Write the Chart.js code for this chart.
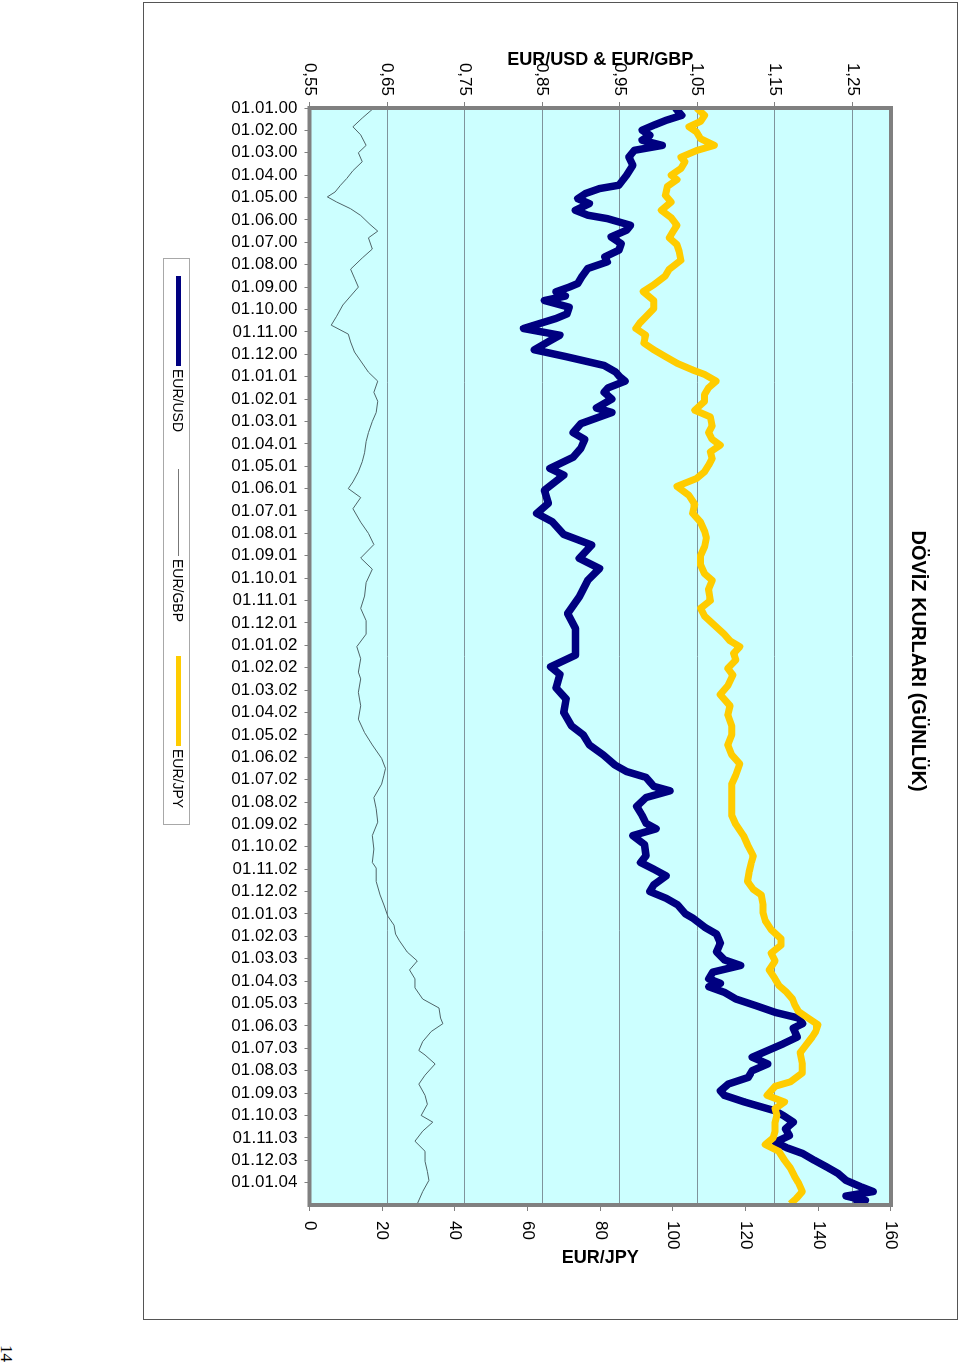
<!DOCTYPE html>
<html>
<head>
<meta charset="utf-8">
<script src="https://cdn.jsdelivr.net/npm/chart.js@4/dist/chart.umd.min.js"></script>
<style>
  body { margin: 0; background: #fff; font-family: Arial, "Liberation Sans", sans-serif; }
  #page { position: relative; width: 960px; height: 1366px; overflow: hidden; }
  #frame {
    position: absolute; left: 0; top: 0; width: 1318px; height: 815px;
    box-sizing: border-box; border: 1px solid #555; background: #fff;
    transform-origin: 0 0; transform: translate(958px, 2px) rotate(90deg);
  }
  #legend {
    position: absolute; left: 255px; top: 767px; width: 567px; height: 27px;
    box-sizing: border-box; border: 1px solid #a8a8a8; font-size: 14px;
  }
  #legend .sw { position: absolute; }
  #legend .tx { position: absolute; top: 3px; line-height: 16px; }
  #pageno {
    position: absolute; left: 0; top: 0; font: 17px "Liberation Serif", "Times New Roman", serif;
    transform-origin: 0 0; transform: translate(16px, 1345px) rotate(90deg);
  }
</style>
</head>
<body>
<div id="page">
  <div id="frame">
    <canvas id="myChart" width="1316" height="813"></canvas>
    <div id="legend">
      <div class="sw" style="left:17px; top:8px; width:90px; height:5px; background:#000080"></div>
      <div class="tx" style="left:110px">EUR/USD</div>
      <div class="sw" style="left:210px; top:10px; width:87px; height:1px; background:#777"></div>
      <div class="tx" style="left:300px">EUR/GBP</div>
      <div class="sw" style="left:397px; top:8px; width:90px; height:5px; background:#ffcc00"></div>
      <div class="tx" style="left:490px">EUR/JPY</div>
    </div>
  </div>
  <div id="pageno">14</div>
</div>
<script>
// month labels, one per month starting 01.01.00
const monthLabels = [
  "01.01.00", "01.02.00", "01.03.00", "01.04.00", "01.05.00", "01.06.00", "01.07.00", "01.08.00", "01.09.00", "01.10.00", "01.11.00", "01.12.00",
  "01.01.01", "01.02.01", "01.03.01", "01.04.01", "01.05.01", "01.06.01", "01.07.01", "01.08.01", "01.09.01", "01.10.01", "01.11.01", "01.12.01",
  "01.01.02", "01.02.02", "01.03.02", "01.04.02", "01.05.02", "01.06.02", "01.07.02", "01.08.02", "01.09.02", "01.10.02", "01.11.02", "01.12.02",
  "01.01.03", "01.02.03", "01.03.03", "01.04.03", "01.05.03", "01.06.03", "01.07.03", "01.08.03", "01.09.03", "01.10.03", "01.11.03", "01.12.03",
  "01.01.04"
];
const leftTicks = [0.55, 0.65, 0.75, 0.85, 0.95, 1.05, 1.15, 1.25];

// [months since 01.01.00, rate]
const eurUsd = [
  [0, 1.022], [0.33, 1.030], [0.55, 1.010], [0.77, 0.994], [0.99, 0.979], [1.22, 0.989], [1.44, 0.979], [1.67, 1.005],
  [1.89, 0.969], [2.19, 0.962], [2.56, 0.967], [3.0, 0.959], [3.45, 0.949], [3.6, 0.924], [3.82, 0.906], [4.05, 0.896],
  [4.27, 0.911], [4.57, 0.893], [4.79, 0.909], [4.94, 0.934], [5.24, 0.964], [5.46, 0.959], [5.76, 0.939], [6.06, 0.952],
  [6.35, 0.949], [6.65, 0.931], [6.87, 0.934], [7.17, 0.909], [7.54, 0.901], [7.84, 0.896], [8.0, 0.885], [8.21, 0.868],
  [8.4, 0.880], [8.6, 0.853], [8.9, 0.885], [9.2, 0.882], [9.4, 0.868], [9.7, 0.840], [9.85, 0.826], [10.15, 0.873],
  [10.4, 0.860], [10.8, 0.840], [11.1, 0.880], [11.5, 0.930], [11.8, 0.945], [12.0, 0.950], [12.2, 0.957], [12.5, 0.935],
  [12.7, 0.930], [13.0, 0.940], [13.4, 0.920], [13.6, 0.940], [14.1, 0.900], [14.5, 0.890], [14.8, 0.905], [15.2, 0.900],
  [15.6, 0.890], [16.1, 0.860], [16.4, 0.878], [17.07, 0.853], [17.66, 0.858], [18.11, 0.843], [18.48, 0.863], [19.05, 0.878],
  [19.52, 0.914], [20.12, 0.898], [20.57, 0.924], [21.09, 0.909], [21.83, 0.898], [22.58, 0.883], [23.24, 0.893], [23.91, 0.893],
  [24.44, 0.893], [24.96, 0.861], [25.3, 0.873], [25.9, 0.868], [26.4, 0.881], [27.0, 0.878], [27.6, 0.888], [28.0, 0.903],
  [28.45, 0.911], [28.9, 0.929], [29.35, 0.944], [29.64, 0.959], [29.9, 0.984], [30.1, 0.989], [30.3, 0.994], [30.5, 1.015],
  [30.8, 0.984], [31.2, 0.972], [31.6, 0.979], [31.95, 0.984], [32.2, 0.997], [32.5, 0.967], [32.9, 0.982], [33.4, 0.984],
  [33.7, 0.977], [34.0, 0.994], [34.3, 1.010], [34.7, 0.994], [35.0, 0.989], [35.3, 1.010], [35.6, 1.025], [36.0, 1.035],
  [36.2, 1.045], [36.6, 1.060], [36.9, 1.075], [37.3, 1.080], [37.7, 1.075], [38.05, 1.085], [38.3, 1.106], [38.6, 1.070],
  [38.9, 1.065], [39.1, 1.080], [39.25, 1.065], [39.5, 1.085], [39.8, 1.100], [40.1, 1.126], [40.4, 1.151], [40.65, 1.181],
  [40.9, 1.186], [41.1, 1.174], [41.5, 1.179], [41.8, 1.161], [42.1, 1.141], [42.4, 1.121], [42.7, 1.141], [43.0, 1.121],
  [43.3, 1.116], [43.6, 1.090], [43.9, 1.080], [44.1, 1.085], [44.4, 1.111], [44.6, 1.131], [44.8, 1.151], [45.0, 1.161],
  [45.3, 1.174], [45.6, 1.164], [45.9, 1.169], [46.2, 1.151], [46.45, 1.166], [46.7, 1.186], [47.0, 1.201], [47.3, 1.217],
  [47.6, 1.232], [47.9, 1.242], [48.2, 1.262], [48.4, 1.277], [48.6, 1.242], [48.8, 1.267], [48.95, 1.252]
];

const eurGbp = [
  [0, 0.633], [0.45, 0.618], [0.84, 0.606], [1.2, 0.616], [1.67, 0.623], [2.0, 0.613], [2.4, 0.618], [2.8, 0.606],
  [3.15, 0.598], [3.45, 0.590], [3.75, 0.583], [3.97, 0.573], [4.2, 0.585], [4.5, 0.603], [4.8, 0.616], [5.2, 0.628],
  [5.5, 0.638], [5.8, 0.626], [6.3, 0.631], [6.7, 0.618], [7.2, 0.603], [7.6, 0.608], [8.0, 0.613], [8.4, 0.603],
  [8.8, 0.593], [9.3, 0.585], [9.7, 0.578], [10.1, 0.600], [10.45, 0.603], [10.9, 0.608], [11.3, 0.616], [11.8, 0.626],
  [12.2, 0.638], [12.7, 0.633], [13.1, 0.638], [13.6, 0.636], [14.0, 0.631], [14.5, 0.626], [14.9, 0.623], [15.4, 0.621],
  [15.8, 0.618], [16.25, 0.613], [16.7, 0.606], [17.0, 0.600], [17.4, 0.616], [17.9, 0.606], [18.5, 0.616], [19.0, 0.626],
  [19.5, 0.633], [20.1, 0.616], [20.6, 0.631], [21.2, 0.623], [21.8, 0.621], [22.35, 0.616], [22.9, 0.623], [23.5, 0.623],
  [24.06, 0.611], [24.6, 0.616], [25.2, 0.613], [25.5, 0.616], [26.1, 0.613], [26.7, 0.616], [27.3, 0.613], [27.9, 0.621],
  [28.45, 0.631], [29.05, 0.643], [29.5, 0.648], [29.8, 0.646], [30.2, 0.643], [30.8, 0.633], [31.3, 0.636], [31.9, 0.638],
  [32.5, 0.631], [33.1, 0.633], [33.7, 0.631], [33.95, 0.636], [34.55, 0.636], [35.15, 0.641], [35.6, 0.646], [36.1, 0.651],
  [36.5, 0.659], [36.9, 0.661], [37.2, 0.666], [37.7, 0.676], [38.1, 0.689], [38.5, 0.679], [38.9, 0.686], [39.3, 0.686],
  [39.8, 0.696], [40.2, 0.717], [40.65, 0.719], [40.9, 0.722], [41.25, 0.707], [41.7, 0.696], [42.1, 0.691], [42.3, 0.699],
  [42.7, 0.712], [43.2, 0.699], [43.6, 0.691], [44.1, 0.699], [44.5, 0.702], [45.0, 0.694], [45.3, 0.709], [45.7, 0.696],
  [46.15, 0.686], [46.6, 0.699], [47.05, 0.699], [47.5, 0.702], [47.9, 0.704], [48.4, 0.696], [48.95, 0.689]
];

const eurJpy = [
  [0, 106.5], [0.33, 108.7], [0.6, 107.6], [0.84, 104.4], [1.07, 106.5], [1.37, 107.6], [1.67, 111.4], [1.9, 106.5],
  [2.2, 102.2], [2.4, 103.3], [2.7, 102.2], [3.0, 99.5], [3.2, 101.1], [3.5, 98.5], [3.9, 97.9], [4.2, 99.5],
  [4.57, 96.8], [4.9, 99.5], [5.24, 101.1], [5.5, 100.1], [5.8, 99.0], [6.1, 101.1], [6.4, 101.7], [6.8, 102.2],
  [7.2, 99.0], [7.5, 97.9], [7.9, 94.7], [8.2, 91.8], [8.6, 94.7], [8.96, 94.7], [9.33, 92.5], [9.6, 90.9],
  [9.85, 89.8], [10.15, 92.5], [10.5, 92.0], [10.8, 94.7], [11.1, 97.9], [11.4, 101.1], [11.7, 105.4], [11.9, 108.7],
  [12.2, 111.9], [12.5, 109.8], [12.8, 108.7], [13.1, 108.7], [13.5, 106.0], [13.8, 110.3], [14.2, 110.8], [14.5, 109.8],
  [14.8, 110.8], [15.06, 113.0], [15.36, 110.3], [15.66, 110.8], [15.96, 109.8], [16.25, 108.7], [16.55, 106.5], [16.9, 101.1],
  [17.3, 104.4], [17.7, 106.0], [18.1, 105.4], [18.5, 107.6], [18.9, 108.7], [19.2, 109.2], [19.6, 108.7], [20.0, 107.6],
  [20.4, 107.6], [20.8, 108.7], [21.1, 110.8], [21.5, 109.8], [22.0, 110.3], [22.35, 107.6], [22.7, 108.7], [23.1, 111.4],
  [23.5, 114.1], [23.8, 115.7], [24.06, 118.4], [24.36, 116.7], [24.66, 117.3], [25.03, 115.1], [25.33, 116.5], [25.8, 115.1],
  [26.2, 113.0], [26.7, 115.7], [27.1, 115.1], [27.6, 116.2], [28.0, 116.2], [28.45, 115.1], [28.9, 116.2], [29.3, 118.4],
  [29.8, 117.3], [30.2, 116.2], [30.7, 116.2], [31.1, 116.2], [31.6, 116.2], [32.0, 117.3], [32.5, 119.4], [32.9, 120.5],
  [33.4, 122.1], [33.7, 121.6], [34.1, 121.0], [34.55, 120.5], [34.9, 122.1], [35.15, 124.3], [35.6, 124.8], [35.96, 124.8],
  [36.3, 125.4], [36.7, 127.0], [37.1, 129.7], [37.4, 129.7], [37.75, 127.0], [38.1, 128.1], [38.5, 126.5], [38.9, 128.1],
  [39.2, 129.2], [39.5, 131.3], [39.8, 132.9], [40.06, 133.5], [40.35, 134.5], [40.65, 137.2], [40.95, 139.9], [41.25, 139.3],
  [41.5, 138.3], [41.9, 136.4], [42.2, 135.0], [42.7, 135.6], [43.1, 135.6], [43.5, 132.3], [43.7, 128.1], [44.1, 125.9],
  [44.4, 130.7], [44.7, 128.1], [45.0, 128.6], [45.3, 128.1], [45.7, 128.1], [46.0, 127.6], [46.3, 125.4], [46.6, 129.1],
  [47.0, 130.7], [47.35, 132.3], [47.7, 133.4], [48.0, 134.5], [48.4, 135.6], [48.7, 134.0], [48.95, 132.3]
];

const toXY = (pairs) => pairs.map(([x, y]) => ({ x, y }));
const gridColor = "#7f949c";
const axisGrey = "#808080";

Chart.defaults.font.family = 'Arial, "Liberation Sans", sans-serif';
Chart.defaults.color = "#000";

// cyan plot area + thick grey frame, like the Excel plot area
const plotFrame = {
  id: "plotFrame",
  beforeDraw(chart) {
    const { ctx, chartArea: a } = chart;
    ctx.save();
    ctx.fillStyle = "#ccffff";
    ctx.fillRect(a.left, a.top, a.right - a.left, a.bottom - a.top);
    ctx.restore();
  },
  afterDatasetsDraw(chart) {
    const { ctx, chartArea: a } = chart;
    ctx.save();
    ctx.strokeStyle = axisGrey;
    ctx.lineWidth = 4;
    ctx.strokeRect(a.left, a.top, a.right - a.left, a.bottom - a.top);
    ctx.restore();
  }
};

// right axis title reads the same way as the left one
const jpyTitle = {
  id: "jpyTitle",
  afterDraw(chart) {
    const s = chart.scales.y1;
    const ctx = chart.ctx;
    ctx.save();
    ctx.translate(s.right - 61, (s.top + s.bottom) / 2);
    ctx.rotate(-Math.PI / 2);
    ctx.font = 'bold 18px Arial, "Liberation Sans", sans-serif';
    ctx.textAlign = "center";
    ctx.textBaseline = "middle";
    ctx.fillStyle = "#000";
    ctx.fillText("EUR/JPY", 0, 0);
    ctx.restore();
  }
};

const ctx = document.getElementById("myChart").getContext("2d");
const myChart = new Chart(ctx, {
  type: "line",
  data: {
    datasets: [
      { label: "EUR/USD", data: toXY(eurUsd), yAxisID: "y", borderColor: "#000080", borderWidth: 7.5, order: 2 },
      { label: "EUR/GBP", data: toXY(eurGbp), yAxisID: "y", borderColor: "#4f6468", borderWidth: 1, order: 1 },
      { label: "EUR/JPY", data: toXY(eurJpy), yAxisID: "y1", borderColor: "#ffcc00", borderWidth: 7, order: 0 }
    ]
  },
  options: {
    responsive: false,
    animation: false,
    layout: { padding: { left: 0, right: 0, top: 0, bottom: 60 } },
    elements: { point: { radius: 0 }, line: { tension: 0, borderJoinStyle: "round", borderCapStyle: "butt" } },
    plugins: {
      legend: { display: false },
      tooltip: { enabled: false },
      title: {
        display: true,
        text: "DÖVİZ KURLARI (GÜNLÜK)",
        font: { size: 20, weight: "bold" },
        padding: { top: 27, bottom: 15 }
      }
    },
    scales: {
      x: {
        type: "linear",
        min: 0,
        max: 49,
        afterBuildTicks: (scale) => { scale.ticks = monthLabels.map((_, i) => ({ value: i })); },
        afterFit: (scale) => { scale.height = 105.5; },
        ticks: {
          autoSkip: false,
          minRotation: 90,
          maxRotation: 90,
          padding: 7,
          font: { size: 17 },
          callback: (v) => monthLabels[v]
        },
        grid: { drawOnChartArea: false, tickLength: 5, color: axisGrey },
        border: { display: false }
      },
      y: {
        position: "left",
        min: 0.55,
        max: 1.3,
        afterBuildTicks: (scale) => { scale.ticks = leftTicks.map((v) => ({ value: v })); },
        afterFit: (scale) => { scale.width = 105; },
        ticks: {
          padding: 6,
          font: { size: 17 },
          callback: (v) => v.toFixed(2).replace(".", ",")
        },
        grid: { color: gridColor, tickColor: axisGrey, tickLength: 6 },
        border: { display: false },
        title: {
          display: true,
          text: "EUR/USD & EUR/GBP",
          font: { size: 18, weight: "bold" },
          padding: { top: 46, bottom: 0 }
        }
      },
      y1: {
        position: "right",
        min: 0,
        max: 160,
        afterFit: (scale) => { scale.width = 114; },
        ticks: { stepSize: 20, padding: 10, font: { size: 17 } },
        grid: { drawOnChartArea: false, tickLength: 6, color: axisGrey },
        border: { display: false }
      }
    }
  },
  plugins: [plotFrame, jpyTitle]
});
</script>
</body>
</html>
